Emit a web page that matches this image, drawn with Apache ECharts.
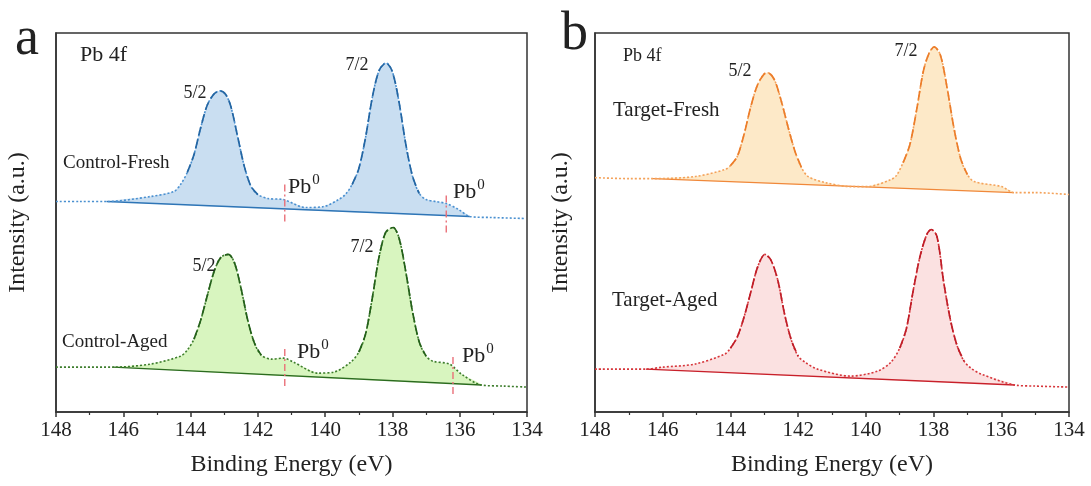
<!DOCTYPE html>
<html><head><meta charset="utf-8">
<script src="https://cdn.jsdelivr.net/npm/echarts@6/dist/echarts.min.js"></script>
<style>html,body{margin:0;padding:0;background:#fff}#c{width:1091px;height:486px}</style>
</head><body><div id="c"></div><script>
// ---------- data ----------
const xTicks = [148, 146, 144, 142, 140, 138, 136, 134];
const yRange = [0, 380];

// Control-Fresh (panel a, upper): [binding energy (eV), intensity (a.u.)]
const cfEnv = [[148,211],[147.3,211],[146.5,211],[145.2,216],[144.5,221],[144.3,228],[144.1,240],[143.9,258],[143.7,285],[143.5,308],[143.3,319],[143.12,322],[142.95,318],[142.8,306],[142.6,276],[142.4,246],[142.2,226],[142.0,218],[141.7,214],[141.24,213],[140.58,205],[140.04,206],[139.6,213],[139.4,218],[139.2,228],[139.0,244],[138.8,275],[138.6,315],[138.4,342],[138.19,350],[138.0,341],[137.8,310],[137.6,268],[137.4,236],[137.2,219],[137.0,213],[136.7,211],[136.39,209],[136.03,203],[135.7,196],[135.05,195],[134.05,194]];
const cfBase = [[146.5,211],[135.7,196]];
const cfDash = [[144.2,141.9],[139.35,137.1]];
const cfPb0 = [[141.2,191,230],[136.4,180,220]];

// Control-Aged (panel a, lower)
const caEnv = [[148,45],[147.2,45],[146.3,45],[145.2,48],[144.3,56],[144.1,62],[143.9,73],[143.7,92],[143.5,117],[143.3,141],[143.1,155],[142.88,158],[142.7,150],[142.5,124],[142.3,92],[142.1,69],[141.9,57],[141.6,53],[141.24,54],[140.94,50],[140.22,39],[139.74,40],[139.24,50],[139.0,60],[138.8,78],[138.6,114],[138.4,155],[138.2,180],[137.98,185],[137.8,174],[137.6,140],[137.4,100],[137.2,70],[137.0,56],[136.8,51],[136.3,48],[135.95,38],[135.35,27],[134.7,26],[134,25]];
const caBase = [[146.3,45],[135.35,27]];
const caDash = [[144.0,141.9],[139.1,137.0]];
const caPb0 = [[141.2,26,65],[136.2,18,56]];

// Target-Fresh (panel b, upper)
const tfEnv = [[148,235],[147,234],[146.3,234],[145.06,236],[144.17,243],[144.0,247],[143.8,256],[143.6,278],[143.4,306],[143.2,328],[143.0,339],[142.89,340],[142.7,333],[142.5,312],[142.3,286],[142.1,262],[141.9,245],[141.7,236],[141.2,230],[140.45,226],[139.95,226],[139.26,233],[139.1,237],[138.9,250],[138.7,268],[138.5,303],[138.3,342],[138.13,360],[137.98,366],[137.8,358],[137.6,325],[137.4,285],[137.2,254],[137.0,238],[136.8,231],[135.99,226],[135.63,220],[135,220],[134,218]];
const tfBase = [[146.3,234],[135.63,220]];
const tfDash = [[144.0,141.8],[139.0,136.9]];

// Target-Aged (panel b, lower)
const taEnv = [[148,43],[146.5,43],[146.0,45],[145.06,48],[144.17,58],[144.0,64],[143.8,75],[143.6,95],[143.4,120],[143.2,145],[142.98,158],[142.8,152],[142.6,132],[142.4,98],[142.2,72],[142.0,56],[141.8,50],[141.43,43],[140.45,36],[139.65,41],[139.26,50],[139.0,64],[138.8,84],[138.6,122],[138.4,156],[138.2,178],[138.07,183],[137.9,176],[137.7,130],[137.5,92],[137.3,66],[137.1,51],[136.9,44],[136.59,38],[135.6,27],[135,26],[134,25]];
const taBase = [[146.5,43],[135.6,27]];
const taDash = [[144.0,141.9],[139.1,137.0]];

// ---------- chart ----------
const FONT = '"Liberation Serif", "Times New Roman", serif';
const chart = echarts.init(document.getElementById('c'));

const palettes = {
  cf: {fill:'#c9def1', line:'#2e75b6', dot:'#4a90d0', dash:'#2466a3'},
  ca: {fill:'#d8f5bf', line:'#2b6b1f', dot:'#3d7d2c', dash:'#24601a'},
  tf: {fill:'#fde9c8', line:'#f0883a', dot:'#f4a25a', dash:'#ec7d2a'},
  ta: {fill:'#fbe1e1', line:'#c8202a', dot:'#d6353a', dash:'#c01e28'}
};

function curve(gi, env, base, dash, pb0, c) {
  const s = [];
  const hi = base[0][0], lo = base[1][0];
  s.push({
    type:'custom', xAxisIndex:gi, yAxisIndex:gi, data:[0], silent:true, z:1,
    renderItem: (p, api) => {
      const pts = [api.coord(base[0])];
      env.filter(d => d[0] < hi - 1e-6 && d[0] > lo + 1e-6).forEach(d => pts.push(api.coord(d)));
      pts.push(api.coord(base[1]));
      return {type:'polygon', shape:{points:pts, smooth:0.15}, style:{fill:c.fill}};
    }
  });
  s.push({type:'line', xAxisIndex:gi, yAxisIndex:gi, data:base, symbol:'none', silent:true, z:3,
    lineStyle:{color:c.line, width:1.4}});
  s.push({type:'line', xAxisIndex:gi, yAxisIndex:gi, data:env, symbol:'none', smooth:0.3, silent:true, z:4,
    lineStyle:{color:c.dot, width:1.6, type:[2,2]}});
  dash.forEach(r => s.push({type:'line', xAxisIndex:gi, yAxisIndex:gi,
    data: env.filter(d => d[0] <= r[0] && d[0] >= r[1]), symbol:'none', smooth:0.3, silent:true, z:5,
    lineStyle:{color:c.dash, width:1.7, type:[9,4]}}));
  (pb0 || []).forEach(m => s.push({type:'line', xAxisIndex:gi, yAxisIndex:gi,
    data:[[m[0],m[1]],[m[0],m[2]]], symbol:'none', silent:true, z:6,
    lineStyle:{color:'#ea6f78', width:1.4, type:[7,3,2,3]}}));
  return s;
}

function xAxisDef(gi) {
  return {gridIndex:gi, type:'value', min:Math.min(...xTicks), max:Math.max(...xTicks), interval:2, inverse:true,
    name:'Binding Energy (eV)', nameLocation:'middle', nameGap:41,
    nameTextStyle:{fontFamily:FONT, fontSize:24, color:'#222'},
    axisLine:{show:true, onZero:false, lineStyle:{color:'#333', width:1.5}},
    axisTick:{show:true, inside:false, length:5, lineStyle:{color:'#333', width:1.5}},
    minorTick:{show:true, splitNumber:2, length:3, lineStyle:{color:'#333', width:1.2}},
    axisLabel:{fontFamily:FONT, fontSize:21, color:'#222', margin:8},
    splitLine:{show:false}};
}
function yAxisDef(gi, gap) {
  return {gridIndex:gi, type:'value', min:yRange[0], max:yRange[1],
    name:'Intensity (a.u.)', nameLocation:'middle', nameGap:gap, nameRotate:90,
    nameTextStyle:{fontFamily:FONT, fontSize:24, color:'#222'},
    axisLine:{show:true, lineStyle:{color:'#333', width:1.5}},
    axisTick:{show:false}, axisLabel:{show:false}, splitLine:{show:false}};
}

function txt(x, y, text, size, align) {
  return {type:'text', x:x, y:y, z:100, silent:true,
    style:{text:text, fontFamily:FONT, fontSize:size, fill:'#222', align:align || 'left', verticalAlign:'middle'}};
}
function pb(x, y) {
  return {type:'text', x:x, y:y, z:100, silent:true,
    style:{text:'{n|Pb}{s|0}', verticalAlign:'bottom', align:'left',
      rich:{n:{fontFamily:FONT, fontSize:22, fill:'#222', verticalAlign:'bottom'},
            s:{fontFamily:FONT, fontSize:15, fill:'#222', verticalAlign:'bottom', padding:[0,0,10,1]}}}};
}

const option = {
  backgroundColor:'#fff',
  animation:false,
  grid:[
    {left:56, right:564, top:33, bottom:74, show:true, borderColor:'#333', borderWidth:1.5, backgroundColor:'transparent'},
    {left:595, right:22, top:33, bottom:74, show:true, borderColor:'#333', borderWidth:1.5, backgroundColor:'transparent'}
  ],
  xAxis:[xAxisDef(0), xAxisDef(1)],
  yAxis:[yAxisDef(0, 26), yAxisDef(1, 22)],
  series:[].concat(
    curve(0, cfEnv, cfBase, cfDash, cfPb0, palettes.cf),
    curve(0, caEnv, caBase, caDash, caPb0, palettes.ca),
    curve(1, tfEnv, tfBase, tfDash, null, palettes.tf),
    curve(1, taEnv, taBase, taDash, null, palettes.ta)
  ),
  graphic:[
    txt(15, 40, 'a', 54),
    txt(561, 35, 'b', 54),
    txt(80, 55, 'Pb 4f', 22),
    txt(195, 93, '5/2', 18, 'center'),
    txt(357, 65, '7/2', 18, 'center'),
    txt(63, 163, 'Control-Fresh', 19),
    txt(204, 266, '5/2', 18, 'center'),
    txt(362, 247, '7/2', 18, 'center'),
    txt(62, 342, 'Control-Aged', 19),
    pb(288, 198), pb(453, 203), pb(297, 363), pb(462, 367),
    txt(623, 56, 'Pb 4f', 18),
    txt(740, 71, '5/2', 18, 'center'),
    txt(906, 51, '7/2', 18, 'center'),
    txt(613, 110, 'Target-Fresh', 21),
    txt(612, 300, 'Target-Aged', 21)
  ]
};
chart.setOption(option);
</script></body></html>
